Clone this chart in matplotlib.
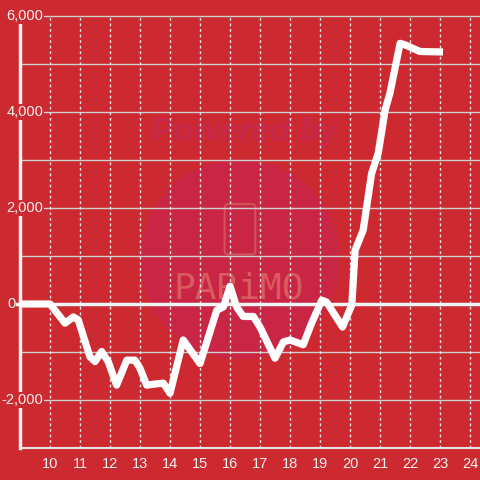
import matplotlib
matplotlib.use("Agg")
import matplotlib.pyplot as plt
from matplotlib.patches import Circle, FancyBboxPatch

# values (x = hour, y = cumulative value)
hours = [9.0, 10.0, 10.5, 10.78, 10.94, 11.33, 11.5, 11.72, 11.94, 12.22, 12.56,
         12.83, 13.0, 13.22, 13.6, 13.78, 14.0, 14.44, 15.0, 15.56, 15.78, 16.0,
         16.22, 16.44, 16.78, 17.0, 17.5, 17.78, 18.0, 18.44, 18.72, 19.06, 19.22,
         19.75, 20.06, 20.17, 20.44, 20.72, 20.94, 21.17, 21.33, 21.67, 21.83,
         22.33, 23.1]
values = [0, 0, -400, -270, -330, -1100, -1200, -990, -1200, -1690, -1170,
          -1170, -1340, -1690, -1660, -1650, -1860, -750, -1240, -130, -60, 370,
          -60, -260, -260, -480, -1130, -790, -750, -850, -400, 80, 40,
          -480, -20, 1120, 1540, 2720, 3140, 4040, 4390, 5430, 5400,
          5260, 5250]
x_ticks = list(range(10, 25))
y_ticks = [6000, 4000, 2000, -2000]
y_labels = ["6,000", "4,000", "2,000", "-2,000"]

bg = "#cc2a30"
fig = plt.figure(figsize=(4.8, 4.8), dpi=100, facecolor=bg)
ax = fig.add_axes([0, 0, 1, 1])
ax.set_facecolor(bg)
ax.set_xlim(8.333, 24.333)
ax.set_ylim(-3667, 6333)
ax.axis("off")

# watermark
ax.add_patch(Circle((0.5, 0.46), 0.208, transform=ax.transAxes,
                    facecolor="#c92646", edgecolor="none", zorder=0))
ax.add_patch(FancyBboxPatch((0.468, 0.47), 0.064, 0.105, transform=ax.transAxes,
                            boxstyle="round,pad=0,rounding_size=0.008",
                            facecolor="none", edgecolor="#d4505a", lw=1.5, zorder=0.5))
ax.text(0.51, 0.725, "Powered by", transform=ax.transAxes, ha="center", va="center",
        fontsize=24, fontweight="bold", style="italic", color="#c8284a",
        family="Liberation Sans", zorder=0.5)
ax.text(0.497, 0.398, "PARiMO", transform=ax.transAxes, ha="center", va="center",
        fontsize=26, color="#d95a5f", family="DejaVu Sans Mono", zorder=0.5)

# grid
for v in range(-2000, 6001, 1000):
    if v != 0:
        ax.plot([9, 24.333], [v, v], color="#cfcfcf", lw=1, zorder=1)
for h in x_ticks:
    ax.plot([h, h], [-3000, 6000], color="#e6e6e6", lw=1, ls=(0, (2, 2)), zorder=1)

# axes lines
ax.plot([9, 9], [-3000, 6000], color="#f2f2f2", lw=2.5, zorder=2)
ax.plot([9, 24.333], [-3000, -3000], color="#e6e6e6", lw=1.5, zorder=2)
ax.plot([8.9, 24.333], [0, 0], color="#f5f5f5", lw=2.5, zorder=2)

# tick labels
for v, lab in zip(y_ticks, y_labels):
    ax.text(9.77, v, lab, ha="right", va="center", fontsize=10.5, color="#f2f2f2",
            family="Liberation Sans", zorder=3,
            bbox=dict(facecolor=bg, edgecolor="none", pad=0.5))
ax.text(8.73, 0, "0", ha="center", va="center", fontsize=10.5, color="#f2f2f2",
        family="Liberation Sans", zorder=3)
for h in x_ticks:
    ax.text(h, -3330, str(h), ha="center", va="center", fontsize=10.5,
            color="#f2f2f2", family="Liberation Sans", zorder=3)

ax.plot(hours, values, color="white", lw=5.2, solid_joinstyle="round",
        solid_capstyle="butt", zorder=4)

fig.savefig("out.png", dpi=100, facecolor=bg)
